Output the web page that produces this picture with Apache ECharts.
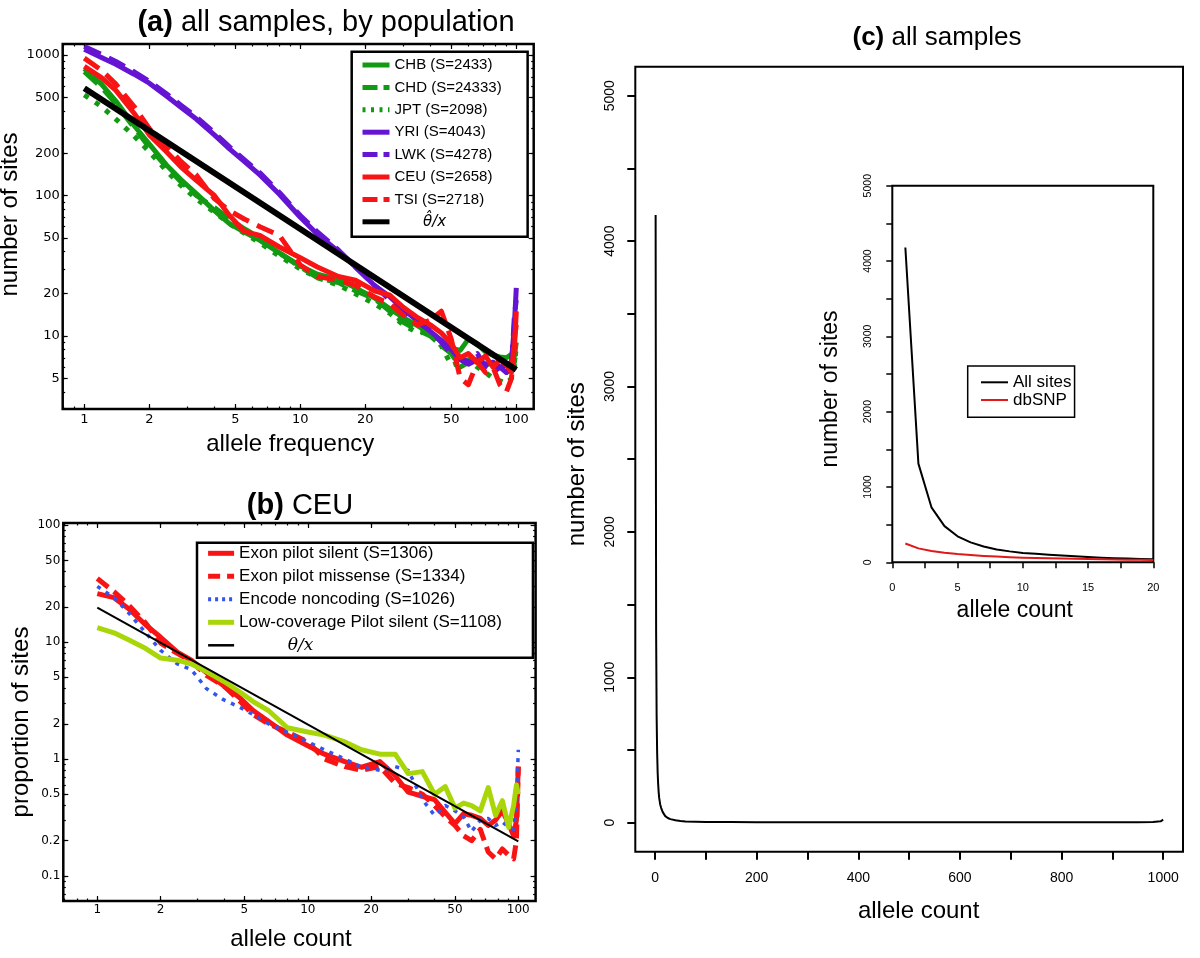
<!DOCTYPE html>
<html>
<head>
<meta charset="utf-8">
<title>Site frequency spectra</title>
<script src="https://cdn.jsdelivr.net/npm/echarts@6.0.0/dist/echarts.min.js"></script>
<style>
html, body { margin: 0; padding: 0; background: #ffffff; }
#chart { width: 1200px; height: 958px; }
</style>
</head>
<body>
<div id="chart"></div>
<script>
// ---------------- Panel (a): all samples, by population ----------------
const freqA = [1, 1.2, 1.4, 1.7, 2, 2.4, 2.8, 3.3, 4, 4.7, 5.5, 6.5, 8, 10, 12, 15, 18, 22, 26, 30, 35, 40, 45, 50, 55, 60, 66, 72, 78, 84, 90, 95, 98, 100];
const chbA = [800, 620, 470, 315, 232, 165, 130, 103, 78, 63, 55, 48, 39, 31.5, 27.5, 25.3, 22, 18.7, 15.6, 13.5, 11.8, 10.4, 9.2, 8.2, 7.9, 9.5, 8.8, 7.7, 7.3, 7.1, 7, 7.4, 7.2, 9];
const chdA = [760, 590, 450, 305, 220, 160, 125, 100, 82, 68, 58, 50, 39, 31, 26, 24, 21, 18.5, 15, 12.5, 11, 10, 8.5, 7.5, 6, 6.5, 6.8, 6.2, 6.5, 5.8, 5.5, 6, 6.5, 8];
const jptA = [520, 430, 350, 265, 205, 150, 118, 95, 76, 63, 54, 46, 37, 30, 26, 23, 20, 17, 14.5, 12, 10.5, 10.8, 8.5, 6.2, 6.5, 6.8, 6, 5.5, 5, 4.8, 4.6, 5, 6, 8.5];
const yriA = [1100, 960, 860, 730, 630, 510, 425, 350, 270, 215, 175, 140, 102, 70, 53, 40, 31, 23, 19, 15.5, 12.8, 10.8, 9.3, 8, 6.8, 6.3, 6.8, 6.3, 6.5, 6, 6.2, 6.5, 12, 22];
const lwkA = [1150, 1010, 900, 760, 650, 530, 440, 362, 280, 222, 180, 145, 105, 72, 55, 41, 31, 23, 18, 15, 12.5, 11, 9, 7.5, 7, 6.5, 7.5, 6, 5.5, 6, 5.5, 6, 14, 18];
const ceuA = [830, 690, 560, 385, 270, 205, 160, 128, 100, 72, 55.5, 52, 43, 36, 31, 26.5, 25, 21, 19.5, 16, 13.5, 12, 10.5, 8.8, 7, 7.5, 6.5, 7.2, 6, 6.8, 6.2, 5.5, 8, 15];
const tsiA = [950, 780, 620, 430, 300, 225, 175, 140, 95, 78, 68, 60, 52, 32, 26.5, 25, 23, 19, 17, 14, 12, 13, 15, 9.5, 5, 4.5, 6.5, 5.5, 6, 4.5, 4, 5, 9.5, 12];
const thetaHatXA = [1, 100];
const thetaHatYA = [580, 5.75];
const xTicksA = [1, 2, 5, 10, 20, 50, 100];
const xMinorA = [0.8, 0.9, 1, 2, 3, 4, 5, 6, 7, 8, 9, 10, 20, 30, 40, 50, 60, 70, 80, 90, 100];
const yTicksA = [5, 10, 20, 50, 100, 200, 500, 1000];
const yMinorA = [4, 5, 6, 7, 8, 9, 10, 20, 30, 40, 50, 60, 70, 80, 90, 100, 200, 300, 400, 500, 600, 700, 800, 900, 1000];

// ---------------- Panel (b): CEU ----------------
const countB = [1, 1.2, 1.4, 1.7, 2, 2.4, 2.8, 3.3, 4, 4.7, 5.5, 6.5, 8, 10, 12, 15, 18, 22, 26, 30, 35, 40, 45, 50, 55, 60, 66, 72, 78, 84, 90, 95, 98, 100];
const exonSilentB = [26, 24, 19.5, 14, 11, 8.2, 7, 5.5, 4.2, 3.4, 2.6, 2.1, 1.6, 1.3, 1.1, 0.95, 0.85, 0.95, 0.72, 0.52, 0.48, 0.45, 0.35, 0.28, 0.34, 0.33, 0.31, 0.27, 0.3, 0.36, 0.28, 0.22, 0.3, 0.86];
const exonMissenseB = [35, 27, 21, 14.5, 9.8, 8, 6.8, 5.2, 4.2, 3.2, 2.4, 2.0, 1.7, 1.4, 1.0, 0.86, 0.8, 0.86, 0.62, 0.57, 0.5, 0.4, 0.32, 0.27, 0.22, 0.2, 0.25, 0.16, 0.14, 0.17, 0.15, 0.14, 0.2, 0.86];
const encodeB = [30, 24, 18, 12, 8.5, 6.5, 5.8, 4.0, 3.2, 2.8, 2.4, 2.0, 1.7, 1.4, 1.2, 1.0, 0.85, 0.8, 0.86, 0.8, 0.45, 0.33, 0.4, 0.36, 0.32, 0.24, 0.3, 0.31, 0.27, 0.29, 0.26, 0.25, 0.4, 1.2];
const lowCovB = [13.3, 12, 10.5, 8.8, 7.3, 7.0, 6.5, 5.6, 4.6, 3.8, 3.1, 2.6, 1.85, 1.7, 1.6, 1.4, 1.2, 1.1, 1.1, 0.75, 0.78, 0.5, 0.58, 0.38, 0.42, 0.4, 0.36, 0.57, 0.33, 0.44, 0.26, 0.4, 0.6, 0.5];
const thetaXB = [1, 100];
const thetaYB = [19.7, 0.197];
const xTicksB = [1, 2, 5, 10, 20, 50, 100];
const xMinorB = [0.7, 0.8, 0.9, 1, 2, 3, 4, 5, 6, 7, 8, 9, 10, 20, 30, 40, 50, 60, 70, 80, 90, 100];
const yTicksB = [0.1, 0.2, 0.5, 1, 2, 5, 10, 20, 50, 100];
const yMinorB = [0.07, 0.08, 0.09, 0.1, 0.2, 0.3, 0.4, 0.5, 0.6, 0.7, 0.8, 0.9, 1, 2, 3, 4, 5, 6, 7, 8, 9, 10, 20, 30, 40, 50, 60, 70, 80, 90, 100];

// ---------------- Panel (c): all samples ----------------
const countC = [1, 2, 3, 4, 5, 6, 7, 8, 10, 12, 15, 20, 25, 30, 40, 50, 60, 80, 100, 150, 200, 300, 400, 500, 600, 700, 800, 900, 950, 980, 995, 1000];
const allSitesC = [4180, 1310, 730, 480, 345, 265, 210, 170, 125, 100, 72, 45, 32, 24, 16, 11, 8, 6, 5, 4, 3, 2, 2, 2, 2, 2, 2, 2, 3, 5, 9, 20];
const countInset = [1, 2, 3, 4, 5, 6, 7, 8, 9, 10, 11, 12, 13, 14, 15, 16, 17, 18, 19, 20];
const allSitesInset = [4180, 1310, 730, 480, 345, 265, 210, 170, 145, 125, 112, 100, 90, 80, 70, 62, 55, 50, 45, 40];
const dbsnpInset = [250, 185, 150, 128, 110, 96, 85, 76, 68, 62, 57, 53, 49, 46, 43, 40, 37, 35, 33, 31];
const xTicksC = [0, 100, 200, 300, 400, 500, 600, 700, 800, 900, 1000];
const xLabelsC = [0, 200, 400, 600, 800, 1000];
const yTicksC = [0, 500, 1000, 1500, 2000, 2500, 3000, 3500, 4000, 4500, 5000];
const yLabelsC = [0, 1000, 2000, 3000, 4000, 5000];
const xTicksInset = [0, 2.5, 5, 7.5, 10, 12.5, 15, 17.5, 20];
const xLabelsInset = [0, 5, 10, 15, 20];

// ---------------- helpers ----------------
const L = v => Math.log10(v);
const fmtLog = v => String(+Math.pow(10, v).toPrecision(3));
const pts = (xs, ys) => xs.map((x, i) => [L(x), L(ys[i])]);
const linPts = (xs, ys) => xs.map((x, i) => [x, ys[i]]);
const SANS = 'Liberation Sans';

const xAxes = [], yAxes = [];
function logAxis(list, gi, pos, range, vals, len, label, nameOpt) {
  const ax = {
    type: 'value', gridIndex: gi, position: pos, min: range[0], max: range[1],
    axisLine: { show: false, onZero: false }, splitLine: { show: false }, splitArea: { show: false },
    axisPointer: { show: false },
    axisTick: { show: true, inside: true, length: len, customValues: vals.map(L), lineStyle: { color: '#000', width: 1.2 } },
    axisLabel: label ? Object.assign({ show: true, customValues: label.values.map(L), formatter: fmtLog, color: '#000', fontFamily: 'DejaVu Sans' }, label.style) : { show: false }
  };
  if (nameOpt) Object.assign(ax, nameOpt);
  list.push(ax);
  return list.length - 1;
}
function nameOf(text, gap, size, pad, rotate) {
  const o = { name: text, nameLocation: 'middle', nameGap: gap,
    nameTextStyle: { fontSize: size, lineHeight: size, fontFamily: SANS, color: '#000', padding: pad } };
  if (rotate) o.nameRotate = 90;
  return o;
}
function addLogPanel(gi, xr, yr, xMaj, xMin, yMaj, yMin, lab, xName, yName) {
  const xi = logAxis(xAxes, gi, 'bottom', xr, xMaj, 5, { values: xMaj, style: lab.x }, xName);
  logAxis(xAxes, gi, 'bottom', xr, xMin, 2.5, null);
  logAxis(xAxes, gi, 'top', xr, xMaj, 5, null);
  logAxis(xAxes, gi, 'top', xr, xMin, 2.5, null);
  const yi = logAxis(yAxes, gi, 'left', yr, yMaj, 5, { values: yMaj, style: lab.y }, yName);
  logAxis(yAxes, gi, 'left', yr, yMin, 2.5, null);
  logAxis(yAxes, gi, 'right', yr, yMaj, 5, null);
  logAxis(yAxes, gi, 'right', yr, yMin, 2.5, null);
  return [xi, yi];
}

const [axA, ayA] = addLogPanel(0, [-0.1, 2.0806], [0.4804, 3.0783], xTicksA, xMinorA, yTicksA, yMinorA,
  { x: { fontSize: 13, margin: 4 }, y: { fontSize: 13, margin: 3 } },
  nameOf('allele frequency', 23, 24, [0, 16, 0, 0]),
  nameOf('number of sites', 28, 24, [0, 0, 0, 24], true));
const [axB, ayB] = addLogPanel(1, [-0.1615, 2.0822], [-1.2147, 2.0188], xTicksB, xMinorB, yTicksB, yMinorB,
  { x: { fontSize: 12, margin: 3 }, y: { fontSize: 12, margin: 3 } },
  nameOf('allele count', 26, 24, [0, 17, 0, 0]),
  nameOf('proportion of sites', 29, 24, [0, 20, 0, 0], true));

function linAxis(list, gi, pos, min, max, ticks, labels, t, nameOpt) {
  const ax = {
    type: 'value', gridIndex: gi, position: pos, min: min, max: max,
    axisLine: { show: false, onZero: false }, splitLine: { show: false }, axisPointer: { show: false },
    axisTick: { show: true, inside: false, length: t.len, customValues: ticks, lineStyle: { color: '#000', width: t.w } },
    axisLabel: { show: true, customValues: labels, formatter: v => String(v), color: '#000', fontFamily: SANS,
      fontSize: t.fs, margin: t.margin, rotate: t.rotate || 0 }
  };
  Object.assign(ax, nameOpt);
  list.push(ax);
  return list.length - 1;
}
const axC = linAxis(xAxes, 2, 'bottom', -39, 1039, xTicksC, xLabelsC, { len: 8, w: 2, fs: 14, margin: 19.6 },
  nameOf('allele count', 48, 24, [0, 0, 0, 19]));
const ayC = linAxis(yAxes, 2, 'left', -200, 5200, yTicksC, yLabelsC, { len: 8, w: 2, fs: 14, margin: 18.3, rotate: 90 },
  nameOf('number of sites', 45.5, 24, [0, 10, 0, 0], true));
const axI = linAxis(xAxes, 3, 'bottom', 0, 20, xTicksInset, xLabelsInset, { len: 6, w: 1.5, fs: 11, margin: 20.5 },
  nameOf('allele count', 37, 23, [0, 16, 0, 0]));
const ayI = linAxis(yAxes, 3, 'left', 0, 5000, yTicksC, yLabelsC, { len: 6, w: 1.5, fs: 10.5, margin: 18.3, rotate: 90 },
  nameOf('number of sites', 50.3, 23, [0, 30, 0, 0], true));

// colours / styles
const GREEN = '#129a12', PURPLE = '#6414d2', RED = '#f81414', BLUE = '#3355ee', LIME = '#a8d608', BLACK = '#000000';
const DASH_A = [18, 9], DOT_A = [5, 8], DASH_B = [14, 7], DOT_B = [4, 6];

function line(name, xi, yi, data, color, width, dash) {
  return { name: name, type: 'line', xAxisIndex: xi, yAxisIndex: yi, data: data,
    symbol: 'none', showSymbol: false, smooth: false, clip: true, animation: false,
    lineStyle: { color: color, width: width, type: dash || 'solid', cap: 'butt', join: 'round' },
    itemStyle: { color: color }, emphasis: { disabled: true } };
}

const TH_A = 'θ\u0302/x', TH_B = 'θ/x';
const series = [
  line('CHB (S=2433)', axA, ayA, pts(freqA, chbA), GREEN, 5),
  line('CHD (S=24333)', axA, ayA, pts(freqA, chdA), GREEN, 5, DASH_A),
  line('JPT (S=2098)', axA, ayA, pts(freqA, jptA), GREEN, 5, DOT_A),
  line('YRI (S=4043)', axA, ayA, pts(freqA, yriA), PURPLE, 5),
  line('LWK (S=4278)', axA, ayA, pts(freqA, lwkA), PURPLE, 5, DASH_A),
  line('CEU (S=2658)', axA, ayA, pts(freqA, ceuA), RED, 5),
  line('TSI (S=2718)', axA, ayA, pts(freqA, tsiA), RED, 5, DASH_A),
  line(TH_A, axA, ayA, pts(thetaHatXA, thetaHatYA), BLACK, 6),

  line('Exon pilot silent (S=1306)', axB, ayB, pts(countB, exonSilentB), RED, 5),
  line('Exon pilot missense (S=1334)', axB, ayB, pts(countB, exonMissenseB), RED, 5, DASH_B),
  line('Encode noncoding (S=1026)', axB, ayB, pts(countB, encodeB), BLUE, 3.5, DOT_B),
  line('Low-coverage Pilot silent (S=1108)', axB, ayB, pts(countB, lowCovB), LIME, 5),
  line(TH_B, axB, ayB, pts(thetaXB, thetaYB), BLACK, 2),

  line('all samples', axC, ayC, linPts(countC, allSitesC), BLACK, 2),
  line('All sites', axI, ayI, linPts(countInset, allSitesInset), BLACK, 2),
  line('dbSNP', axI, ayI, linPts(countInset, dbsnpInset), '#e01818', 2)
];

function legItem(name, color, width, dash) {
  return { name: name, itemStyle: { opacity: 0, borderWidth: 0, color: 'rgba(0,0,0,0)' },
    lineStyle: { color: color, width: width, type: dash || 'solid', cap: 'butt' } };
}
const legendText = (size, mathFont) => ({ fontFamily: SANS, fontSize: size, lineHeight: size, color: '#000',
  rich: { m: { fontFamily: mathFont, fontStyle: 'italic', fontSize: size, lineHeight: size, color: '#000' } } });

const option = {
  animation: false,
  backgroundColor: '#ffffff',
  title: [
    { text: '{b|(a)} all samples, by population', left: 326, top: 8, textAlign: 'center', padding: 0,
      textStyle: { fontSize: 29, lineHeight: 29, fontFamily: SANS, fontWeight: 'normal', color: '#000',
        rich: { b: { fontSize: 29, lineHeight: 29, fontFamily: SANS, fontWeight: 'bold', color: '#000' } } } },
    { text: '{b|(b)} CEU', left: 300, top: 491, textAlign: 'center', padding: 0,
      textStyle: { fontSize: 29, lineHeight: 29, fontFamily: SANS, fontWeight: 'normal', color: '#000',
        rich: { b: { fontSize: 29, lineHeight: 29, fontFamily: SANS, fontWeight: 'bold', color: '#000' } } } },
    { text: '{b|(c)} all samples', left: 937, top: 25, textAlign: 'center', padding: 0,
      textStyle: { fontSize: 26, lineHeight: 26, fontFamily: SANS, fontWeight: 'normal', color: '#000',
        rich: { b: { fontSize: 26, lineHeight: 26, fontFamily: SANS, fontWeight: 'bold', color: '#000' } } } }
  ],
  grid: [
    { left: 62.7, top: 44, width: 471, height: 365, show: true, borderColor: '#000', borderWidth: 2.5, backgroundColor: 'rgba(0,0,0,0)', containLabel: false, outerBoundsMode: 'none' },
    { left: 63.3, top: 523, width: 472.3, height: 378, show: true, borderColor: '#000', borderWidth: 2.5, backgroundColor: 'rgba(0,0,0,0)', containLabel: false, outerBoundsMode: 'none' },
    { left: 635.3, top: 66.7, width: 547.7, height: 785, show: true, borderColor: '#000', borderWidth: 2, backgroundColor: 'rgba(0,0,0,0)', containLabel: false, outerBoundsMode: 'none' },
    { left: 892.3, top: 185.7, width: 261, height: 376.6, show: true, borderColor: '#000', borderWidth: 2, backgroundColor: '#ffffff', containLabel: false, outerBoundsMode: 'none' }
  ],
  xAxis: xAxes,
  yAxis: yAxes,
  legend: [
    { orient: 'vertical', left: 351.7, top: 51.7, itemWidth: 27, itemHeight: 14, itemGap: 7.4,
      padding: [5.8, 26, 7.4, 8.3], borderColor: '#000', borderWidth: 2.5, borderRadius: 0, backgroundColor: '#ffffff',
      selectedMode: false, textStyle: legendText(15, 'DejaVu Sans'),
      formatter: n => n === TH_A ? '{m|      ' + n + '}' : n,
      data: [legItem('CHB (S=2433)', GREEN, 5), legItem('CHD (S=24333)', GREEN, 5, [15, 6]),
        legItem('JPT (S=2098)', GREEN, 5, [3, 5.5]), legItem('YRI (S=4043)', PURPLE, 5),
        legItem('LWK (S=4278)', PURPLE, 5, [15, 6]), legItem('CEU (S=2658)', RED, 5),
        legItem('TSI (S=2718)', RED, 5, [15, 6]), legItem(TH_A, BLACK, 5)] },
    { orient: 'vertical', left: 197, top: 542.7, itemWidth: 26, itemHeight: 14, itemGap: 6,
      padding: [2.1, 31, 3.9, 8.6], borderColor: '#000', borderWidth: 2.5, borderRadius: 0, backgroundColor: '#ffffff',
      selectedMode: false, textStyle: legendText(17, 'DejaVu Serif'),
      formatter: n => n === TH_B ? '{m|         ' + n + '}' : n,
      data: [legItem('Exon pilot silent (S=1306)', RED, 5), legItem('Exon pilot missense (S=1334)', RED, 5, [12, 7]),
        legItem('Encode noncoding (S=1026)', BLUE, 4, [3, 4]), legItem('Low-coverage Pilot silent (S=1108)', LIME, 5),
        legItem(TH_B, BLACK, 2.5)] },
    { orient: 'vertical', left: 967.7, top: 366, itemWidth: 27, itemHeight: 14, itemGap: 0.7,
      padding: [7.8, 3, 8.8, 12.3], borderColor: '#000', borderWidth: 1.5, borderRadius: 0, backgroundColor: '#ffffff',
      selectedMode: false, textStyle: { fontFamily: SANS, fontSize: 17, lineHeight: 17, color: '#000' },
      data: [legItem('All sites', BLACK, 2), legItem('dbSNP', '#e01818', 2)] }
  ],
  series: series
};

const chart = echarts.init(document.getElementById('chart'), null, { renderer: 'canvas', width: 1200, height: 958 });
chart.setOption(option);
</script>
</body>
</html>
